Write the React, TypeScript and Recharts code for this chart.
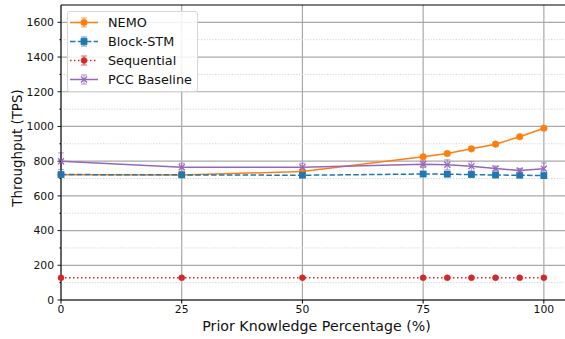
import {
  LineChart, Line, XAxis, YAxis, CartesianGrid, ErrorBar, ReferenceLine, Legend, Label,
} from 'recharts';

// prior knowledge percentage (x axis)
const knowledge = [0, 25, 50, 75, 80, 85, 90, 95, 100];

const nemoTps  = [722, 721, 740, 825, 844, 871, 898, 941, 990];
const nemoErr  = [8, 8, 9, 10, 9, 10, 9, 10, 10];
const blockTps = [723, 721, 719, 726, 725, 723, 720, 719, 717];
const blockErr = [9, 8, 8, 8, 9, 8, 8, 7, 8];
const seqTps   = [128, 128, 128, 128, 128, 128, 128, 128, 128];
const seqErr   = [3, 3, 3, 3, 3, 3, 3, 3, 3];
const pccTps   = [800, 765, 765, 782, 779, 771, 758, 746, 756];
const pccErr   = [48, 23, 23, 19, 29, 27, 14, 12, 34];

const xTicks  = [0, 25, 50, 75, 100];
const yMajor  = [0, 200, 400, 600, 800, 1000, 1200, 1400, 1600];
const yMinor  = [100, 300, 500, 700, 900, 1100, 1300, 1500];
const yTicks  = [...yMajor, ...yMinor].sort((a, b) => a - b);

const data = knowledge.map((x, i) => ({
  x,
  nemo: nemoTps[i],   nemoErr: nemoErr[i],
  block: blockTps[i], blockErr: blockErr[i],
  seq: seqTps[i],     seqErr: seqErr[i],
  pcc: pccTps[i],     pccErr: pccErr[i],
}));

const FONT = '"DejaVu Sans", sans-serif';
const INK = '#111';

type Marker = 'circle' | 'square' | 'x';

const series: { key: string; name: string; color: string; dash?: string; marker: Marker; size: number }[] = [
  { key: 'nemo',  name: 'NEMO',         color: '#ff7f0e',                   marker: 'circle', size: 3.3 },
  { key: 'block', name: 'Block-STM',    color: '#1f77b4', dash: '5.5 2.4', marker: 'square', size: 3.4 },
  { key: 'seq',   name: 'Sequential',   color: '#d62728', dash: '1.5 2.5', marker: 'circle', size: 3 },
  { key: 'pcc',   name: 'PCC Baseline', color: '#9467bd',                   marker: 'x',      size: 3 },
];

function drawMarker(kind: Marker, cx: number, cy: number, s: number, color: string, key?: string | number) {
  if (kind === 'circle') return <circle key={key} cx={cx} cy={cy} r={s} fill={color} stroke={color} strokeWidth={0.5} />;
  if (kind === 'square') return <rect key={key} x={cx - s} y={cy - s} width={s * 2} height={s * 2} fill={color} />;
  return (
    <g key={key}>
      <line x1={cx - s} y1={cy - s} x2={cx + s} y2={cy + s} stroke={color} strokeWidth={1.3} />
      <line x1={cx - s} y1={cy + s} x2={cx + s} y2={cy - s} stroke={color} strokeWidth={1.3} />
    </g>
  );
}

function YTick({ x, y, payload }: any) {
  const major = payload.value % 200 === 0;
  return (
    <g>
      <line x1={x + 3.5 + (major ? 0 : 1.8)} x2={x + 7} y1={y} y2={y} stroke="#000" strokeWidth={0.9} />
      {major && (
        <text x={x} y={y} dy="0.36em" textAnchor="end" fontSize={10.8} fontFamily={FONT} fill={INK}>
          {payload.value}
        </text>
      )}
    </g>
  );
}

function LegendBox() {
  return (
    <div
      style={{
        border: '1px solid #d6d6d6', borderRadius: 3, background: 'rgba(255,255,255,0.85)',
        padding: '1px 5px 2px 2px', fontFamily: FONT, fontSize: 12.8, color: INK,
      }}
    >
      {series.map((s) => (
        <div key={s.key} style={{ display: 'flex', alignItems: 'center', height: 19 }}>
          <svg width={28} height={19} style={{ marginRight: 10 }}>
            <line x1={0} x2={28} y1={9.5} y2={9.5} stroke={s.color} strokeWidth={1.5} strokeDasharray={s.dash} />
            <g stroke={s.color} strokeOpacity={0.6} strokeWidth={1.2}>
              <line x1={14} x2={14} y1={5} y2={14} />
              <line x1={11} x2={17} y1={5} y2={5} />
              <line x1={11} x2={17} y1={14} y2={14} />
            </g>
            {drawMarker(s.marker, 14, 9.5, s.size, s.color)}
          </svg>
          <span>{s.name}</span>
        </div>
      ))}
    </div>
  );
}

export default function App() {
  return (
    <div style={{ position: 'absolute', left: 0, top: 0, width: 565, height: 339, overflow: 'hidden', background: '#fff' }}>
      <LineChart width={580} height={339} data={data} margin={{ top: 5, right: 12, bottom: 0, left: 0 }}>
        <CartesianGrid horizontal={false} stroke="#a8a8a8" strokeWidth={1.2} />
        {yMinor.map((v) => (
          <ReferenceLine key={`mi${v}`} y={v} stroke="#d0d0d0" strokeWidth={1} strokeDasharray="1.2 1.6" />
        ))}
        {yMajor.map((v) => (
          <ReferenceLine key={`ma${v}`} y={v} stroke="#a8a8a8" strokeWidth={1.2} />
        ))}
        <ReferenceLine y={1700} stroke="#000" strokeWidth={1.2} />
        <XAxis
          type="number"
          dataKey="x"
          domain={[0, 105]}
          ticks={xTicks}
          interval={0}
          height={39}
          tickSize={3.5}
          tickMargin={2}
          stroke="#000"
          tick={{ fontSize: 10.8, fill: INK, fontFamily: FONT }}
        >
          <Label
            content={(p: any) => (
              <text
                x={p.viewBox.x + p.viewBox.width / 2 + 2}
                y={331}
                textAnchor="middle"
                fontSize={14.2}
                fontFamily={FONT}
                fill={INK}
              >
                Prior Knowledge Percentage (%)
              </text>
            )}
          />
        </XAxis>
        <YAxis
          type="number"
          domain={[0, 1700]}
          ticks={yTicks}
          interval={0}
          width={61}
          tickSize={3.5}
          tickMargin={3.5}
          tickLine={false}
          stroke="#000"
          tick={<YTick />}
        >
          <Label
            content={(p: any) => {
              const cy = p.viewBox.y + p.viewBox.height / 2 - 4.5;
              return (
                <text
                  x={22}
                  y={cy}
                  transform={`rotate(-90 22 ${cy})`}
                  textAnchor="middle"
                  fontSize={13.4}
                  fontFamily={FONT}
                  fill={INK}
                >
                  Throughput (TPS)
                </text>
              );
            }}
          />
        </YAxis>
        <Legend
          verticalAlign="middle"
          align="center"
          layout="horizontal"
          content={<LegendBox />}
          wrapperStyle={{ position: 'absolute', left: 67, top: 11, width: 'auto', height: 'auto' }}
        />
        {series.map((s) => (
          <Line
            key={s.key}
            dataKey={s.key}
            name={s.name}
            type="linear"
            stroke={s.color}
            strokeWidth={1.5}
            strokeDasharray={s.dash}
            isAnimationActive={false}
            activeDot={false}
            dot={(p: any) => drawMarker(s.marker, p.cx, p.cy, s.size, s.color, p.index)}
          >
            <ErrorBar
              dataKey={`${s.key}Err`}
              direction="y"
              width={3}
              stroke={s.color}
              strokeOpacity={0.6}
              strokeWidth={1.2}
              isAnimationActive={false}
            />
          </Line>
        ))}
      </LineChart>
    </div>
  );
}
